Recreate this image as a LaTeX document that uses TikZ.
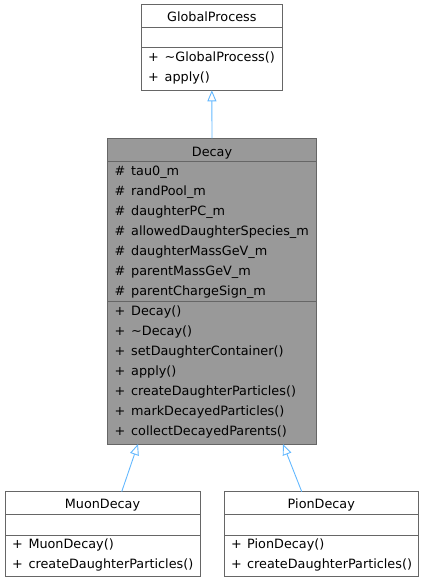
\documentclass[tikz,border=0pt]{standalone}
\usepackage{fontspec}
\setmainfont{DejaVu Sans}
\usetikzlibrary{arrows.meta}
\definecolor{bordergrey}{HTML}{666666}
\definecolor{focusfill}{HTML}{999999}
\definecolor{edgeblue}{HTML}{63B8FF}
\tikzset{
  classbox/.style={draw=bordergrey, line width=1pt, anchor=north west, inner sep=0pt, outer sep=0pt},
  sepline/.style={draw=bordergrey, line width=1pt},
  title/.style={anchor=base, inner sep=0pt, font=\fontsize{12.8}{14}\selectfont},
  member/.style={anchor=base west, inner sep=0pt, font=\fontsize{12.8}{14}\selectfont},
  inherit/.style={draw=edgeblue, line width=0.9pt, -{Triangle[length=11pt,width=9pt,fill=white,line width=0.9pt]}}
}
\begin{document}
\begin{tikzpicture}[x=1pt,y=-1pt]
\useasboundingbox (0,0) rectangle (424,583);

% GlobalProcess
\node[classbox, fill=white, minimum width=141.7pt, minimum height=85.3pt] (gp) at (141,5) {};
\draw[sepline] ([yshift=-22.7pt]gp.north west) -- ([yshift=-22.7pt]gp.north east);
\draw[sepline] ([yshift=-42.7pt]gp.north west) -- ([yshift=-42.7pt]gp.north east);
\node[title] (gpt) at (211.8,21.5) {GlobalProcess};
\node[member] (gpm1s) at (148,61.5) {+};
\node[member] (gpm1) at (164.5,61.5) {\textasciitilde GlobalProcess()};
\node[member] (gpm2s) at (148,81.5) {+};
\node[member] (gpm2) at (164.5,81.5) {apply()};

% Decay
\node[classbox, fill=focusfill, minimum width=209.4pt, minimum height=305.7pt] (decay) at (107.3,138.3) {};
\draw[sepline] ([yshift=-23.4pt]decay.north west) -- ([yshift=-23.4pt]decay.north east);
\draw[sepline] ([yshift=-162.7pt]decay.north west) -- ([yshift=-162.7pt]decay.north east);
\node[title] (dt) at (212,156) {Decay};
\foreach \t [count=\i from 0] in {tau0\_m,randPool\_m,daughterPC\_m,allowedDaughterSpecies\_m,daughterMassGeV\_m,parentMassGeV\_m,parentChargeSign\_m}{
  \node[member] (da\i s) at (114.3,175+20*\i) {\#};
  \node[member] (da\i) at (131,175+20*\i) {\t};
}
\foreach \t [count=\i from 0] in {Decay(),\textasciitilde Decay(),setDaughterContainer(),apply(),createDaughterParticles(),markDecayedParticles(),collectDecayedParents()}{
  \node[member] (dm\i s) at (114.3,315+20*\i) {+};
  \node[member] (dm\i) at (131,315+20*\i) {\t};
}

% MuonDecay
\node[classbox, fill=white, minimum width=195pt, minimum height=85pt] (muon) at (5,491.7) {};
\draw[sepline] ([yshift=-22.3pt]muon.north west) -- ([yshift=-22.3pt]muon.north east);
\draw[sepline] ([yshift=-43.3pt]muon.north west) -- ([yshift=-43.3pt]muon.north east);
\node[title] (mt) at (102.5,508.5) {MuonDecay};
\node[member] (mm1s) at (12,548.5) {+};
\node[member] (mm1) at (28.3,548.5) {MuonDecay()};
\node[member] (mm2s) at (12,568.5) {+};
\node[member] (mm2) at (28.3,568.5) {createDaughterParticles()};

% PionDecay
\node[classbox, fill=white, minimum width=194.7pt, minimum height=85pt] (pion) at (224,491.7) {};
\draw[sepline] ([yshift=-22.3pt]pion.north west) -- ([yshift=-22.3pt]pion.north east);
\draw[sepline] ([yshift=-43.3pt]pion.north west) -- ([yshift=-43.3pt]pion.north east);
\node[title] (pt) at (321.3,508.5) {PionDecay};
\node[member] (pm1s) at (231,548.5) {+};
\node[member] (pm1) at (247,548.5) {PionDecay()};
\node[member] (pm2s) at (231,568.5) {+};
\node[member] (pm2) at (247,568.5) {createDaughterParticles()};

% inheritance edges
\draw[inherit] (decay.north) -- (gp.south);
\draw[inherit] ([xshift=19.2pt]muon.north) -- ([xshift=-74pt]decay.south);
\draw[inherit] ([xshift=-19.6pt]pion.north) -- ([xshift=71pt]decay.south);
\end{tikzpicture}
\end{document}
